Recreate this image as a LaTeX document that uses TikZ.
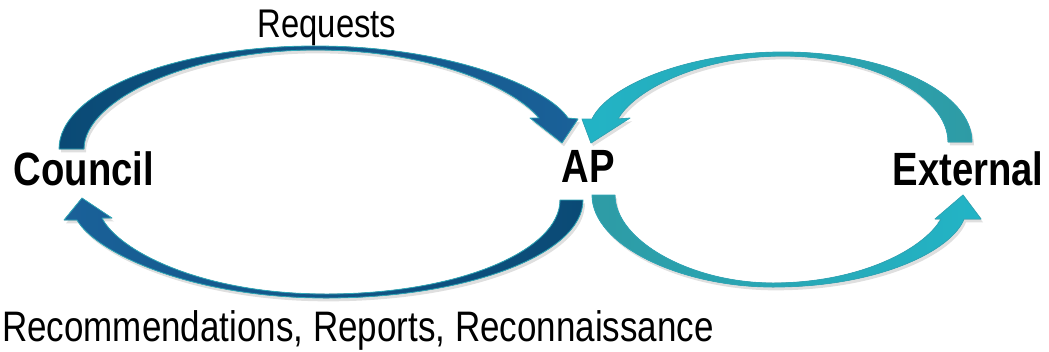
\documentclass[tikz,border=0pt]{standalone}
\usepackage{fontspec}
\setmainfont{Liberation Sans}[FakeStretch=0.82]
\usetikzlibrary{shadows}
\definecolor{navyA}{HTML}{0A4A75}
\definecolor{navyB}{HTML}{1A6199}
\definecolor{tealA}{HTML}{2E9BA5}
\definecolor{tealB}{HTML}{22B4C6}
\definecolor{rim}{HTML}{2FA8B8}
\tikzset{
  arr/.style={draw=rim, line width=0.6pt, line join=round,
    drop shadow={shadow xshift=1.5pt, shadow yshift=-2.5pt, opacity=0.25}},
  lbl/.style={inner sep=0pt, anchor=base, font=\fontsize{32}{36}\selectfont},
  big/.style={inner sep=0pt, anchor=base, font=\fontsize{35}{40}\selectfont\bfseries}
}
\begin{document}
\begin{tikzpicture}[x=0.75pt,y=-0.75pt]
			\useasboundingbox (0,0) rectangle (1049,351);
			
			% Council -> AP (top)
			\filldraw[arr, left color=navyA, right color=navyB]
				(59,149) .. controls (59,92) and (174,46) .. (315,46)
				.. controls (452,46) and (548,88) .. (568,118)
				-- (578,119) -- (562,143) -- (530,118) -- (539,118)
				.. controls (518,92) and (440,50) .. (315,50)
				.. controls (190,50) and (84,100) .. (84,149) -- cycle;
			% AP -> Council (bottom)
			\filldraw[arr, left color=navyB, right color=navyA]
				(583,200) .. controls (583,254) and (468,298) .. (326,298)
				.. controls (190,298) and (95,252) .. (77,220)
				-- (64,220) -- (82,198) -- (112,218) -- (102,218)
				.. controls (118,250) and (200,294) .. (326,294)
				.. controls (460,294) and (560,250) .. (560,200) -- cycle;
			% External -> AP (top)
			\filldraw[arr, left color=tealB, right color=tealA]
				(972,142) .. controls (972,92) and (887,52) .. (783,52)
				.. controls (690,52) and (608,85) .. (592,119)
				-- (582,119) -- (591,143) -- (630,118) -- (618,119)
				.. controls (634,90) and (700,56) .. (783,56)
				.. controls (870,56) and (948,95) .. (948,142) -- cycle;
			% AP -> External (bottom)
			\filldraw[arr, left color=tealA, right color=tealB]
				(592,195) .. controls (592,245) and (680,287) .. (773,287)
				.. controls (880,287) and (952,250) .. (964,219)
				-- (981,219) -- (963,195) -- (935,219) -- (941,219)
				.. controls (924,249) and (860,283) .. (773,283)
				.. controls (690,283) and (615,240) .. (615,195) -- cycle;
			
			\node[big] (council)  at (84,185)  {Council};
			\node[big] (ap)       at (588,182) {AP};
			\node[big] (external) at (968,185) {External};
			\node[lbl, font=\fontsize{30}{34}\selectfont] (req) at (327,37) {Requests};
			\node[lbl] (rec) at (358,341) {Recommendations, Reports, Reconnaissance};
		\end{tikzpicture}
\end{document}
